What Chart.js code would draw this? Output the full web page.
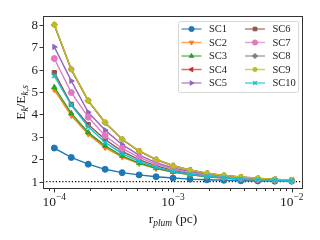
<!DOCTYPE html>
<html>
<head>
<meta charset="utf-8">
<script src="https://cdn.jsdelivr.net/npm/chart.js@4.4.1/dist/chart.umd.min.js"></script>
<style>html,body{margin:0;padding:0;background:#fff}</style>
</head>
<body>
<canvas id="grafic" width="320" height="240"></canvas>
<script>
// radis de Plummer (pc)
const rPlum = [1e-4, 1.39e-4, 1.93e-4, 2.68e-4, 3.73e-4, 5.18e-4, 7.2e-4, 1e-3,
               1.39e-3, 1.93e-3, 2.68e-3, 3.73e-3, 5.18e-3, 7.2e-3, 1e-2];

const SC1  = [2.50, 2.08, 1.78, 1.55, 1.40, 1.30, 1.22, 1.16, 1.11, 1.08, 1.06, 1.04, 1.03, 1.02, 1.02];
const SC2  = [5.10, 3.95, 3.12, 2.52, 2.10, 1.80, 1.58, 1.42, 1.31, 1.22, 1.16, 1.11, 1.08, 1.06, 1.04];
const SC3  = [5.22, 4.05, 3.20, 2.60, 2.15, 1.83, 1.60, 1.43, 1.31, 1.22, 1.16, 1.12, 1.08, 1.06, 1.04];
const SC4  = [8.00, 6.00, 4.61, 3.63, 2.88, 2.36, 1.98, 1.71, 1.51, 1.37, 1.27, 1.20, 1.14, 1.10, 1.07];
const SC5  = [7.02, 5.50, 4.10, 3.30, 2.65, 2.18, 1.85, 1.61, 1.44, 1.32, 1.23, 1.17, 1.12, 1.08, 1.06];
const SC6  = [5.87, 4.45, 3.55, 2.88, 2.35, 1.98, 1.70, 1.50, 1.36, 1.26, 1.19, 1.13, 1.09, 1.07, 1.05];
const SC7  = [6.50, 4.98, 3.88, 3.05, 2.48, 2.08, 1.78, 1.56, 1.40, 1.29, 1.21, 1.15, 1.10, 1.07, 1.05];
const SC8  = [8.01, 6.02, 4.62, 3.64, 2.89, 2.37, 1.99, 1.71, 1.52, 1.38, 1.28, 1.21, 1.15, 1.10, 1.07];
const SC9  = [8.01, 6.02, 4.62, 3.64, 2.89, 2.37, 1.99, 1.71, 1.52, 1.38, 1.28, 1.21, 1.15, 1.10, 1.07];
const SC10 = [5.72, 4.42, 3.45, 2.75, 2.25, 1.90, 1.65, 1.46, 1.33, 1.24, 1.17, 1.12, 1.08, 1.06, 1.04];

const noms = ['SC1', 'SC2', 'SC3', 'SC4', 'SC5', 'SC6', 'SC7', 'SC8', 'SC9', 'SC10'];
const series = [SC1, SC2, SC3, SC4, SC5, SC6, SC7, SC8, SC9, SC10];
const yTicks = [1, 2, 3, 4, 5, 6, 7, 8];
const xDecades = [-4, -3, -2];

const COLORS = ['#1f77b4', '#ff7f0e', '#2ca02c', '#d62728', '#9467bd',
                '#8c564b', '#e377c2', '#7f7f7f', '#bcbd22', '#17becf'];
const MARKERS = [
    { style: 'circle', rot: 0 }, { style: 'triangle', rot: 180 }, { style: 'triangle', rot: 0 },
    { style: 'triangle', rot: 270 }, { style: 'triangle', rot: 90 }, { style: 'rect', rot: 0 },
    { style: 'circle', rot: 0 }, { style: 'rectRot', rot: 0 }, { style: 'star', rot: 0 },
    { style: 'crossRot', rot: 0 }
];
const FONT = '"Liberation Serif", "DejaVu Serif", serif';

function alpha(hex, a) {
    const n = parseInt(hex.slice(1), 16);
    return `rgba(${n >> 16},${(n >> 8) & 255},${n & 255},${a})`;
}

// text amb subíndexs / superíndexs
function drawRich(ctx, parts, x, y, size, align) {
    const pieces = parts.map(p => {
        const s = p.sub || p.sup ? size * 0.7 : size;
        ctx.font = `${p.it ? 'italic ' : ''}${s}px ${FONT}`;
        return { ...p, s, w: ctx.measureText(p.t).width };
    });
    const total = pieces.reduce((a, p) => a + p.w, 0);
    let cx = align === 'center' ? x - total / 2 : (align === 'right' ? x - total : x);
    ctx.textAlign = 'left';
    ctx.textBaseline = 'alphabetic';
    for (const p of pieces) {
        ctx.font = `${p.it ? 'italic ' : ''}${p.s}px ${FONT}`;
        const dy = p.sub ? size * 0.22 : (p.sup ? -size * 0.42 : 0);
        ctx.fillText(p.t, cx, y + dy);
        cx += p.w;
    }
}

function marker(ctx, i, x, y, r) {
    const m = MARKERS[i];
    ctx.save();
    ctx.fillStyle = COLORS[i];
    ctx.strokeStyle = COLORS[i];
    ctx.lineWidth = (m.style === 'star' || m.style === 'crossRot') ? 1.5 : 1;
    Chart.helpers.drawPoint(ctx, { pointStyle: m.style, rotation: m.rot, radius: r, borderWidth: ctx.lineWidth }, x, y);
    ctx.restore();
}

const decor = {
    id: 'decor',
    beforeDatasetsDraw(chart) {
        const { ctx, chartArea: a, scales: { y } } = chart;
        const py = y.getPixelForValue(1);
        ctx.save();
        ctx.strokeStyle = '#000';
        ctx.lineWidth = 1.1;
        ctx.setLineDash([1.2, 2]);
        ctx.beginPath();
        ctx.moveTo(a.left, py);
        ctx.lineTo(a.right, py);
        ctx.stroke();
        ctx.restore();
    },
    afterDraw(chart) {
        const { ctx, chartArea: a, scales: { x, y } } = chart;
        ctx.save();
        ctx.strokeStyle = '#333';
        ctx.fillStyle = '#222';
        ctx.lineWidth = 1;
        ctx.strokeRect(a.left + 0.5, a.top + 0.5, a.right - a.left - 1, a.bottom - a.top - 1);

        // eix y
        ctx.font = `13px ${FONT}`;
        yTicks.forEach(v => {
            const py = Math.round(y.getPixelForValue(v)) + 0.5;
            ctx.beginPath();
            ctx.moveTo(a.left - 3.5, py);
            ctx.lineTo(a.left, py);
            ctx.stroke();
            ctx.textAlign = 'right';
            ctx.textBaseline = 'middle';
            ctx.fillText(String(v), a.left - 5, py + 0.5);
        });

        // eix x: ticks majors i menors
        for (let d = -5; d <= -2; d++) {
            for (let m = 1; m <= 9; m++) {
                const v = m * Math.pow(10, d);
                if (v < x.min || v > x.max) continue;
                const px = Math.round(x.getPixelForValue(v)) + 0.5;
                ctx.beginPath();
                ctx.moveTo(px, a.bottom);
                ctx.lineTo(px, a.bottom + (m === 1 ? 3.5 : 2));
                ctx.stroke();
            }
        }
        xDecades.forEach(d => {
            const px = x.getPixelForValue(Math.pow(10, d));
            drawRich(ctx, [{ t: '10' }, { t: '\u2212' + (-d), sup: true }], px, a.bottom + 17, 13.5, 'center');
        });

        // títols dels eixos
        drawRich(ctx, [{ t: 'r' }, { t: 'plum', sub: true, it: true }, { t: ' (pc)' }],
                 (a.left + a.right) / 2, a.bottom + 34, 13.5, 'center');
        ctx.save();
        ctx.translate(25, (a.top + a.bottom) / 2);
        ctx.rotate(-Math.PI / 2);
        drawRich(ctx, [{ t: 'E' }, { t: 'k', sub: true, it: true }, { t: '/E' }, { t: 'k,s', sub: true, it: true }],
                 0, 0, 13.5, 'center');
        ctx.restore();

        // llegenda en dues columnes
        const lx = 178, ly = 21, lw = 120, lh = 71;
        ctx.fillStyle = 'rgba(255,255,255,0.85)';
        ctx.strokeStyle = '#d6d6d6';
        ctx.beginPath();
        ctx.roundRect(lx + 0.5, ly + 0.5, lw, lh, 2);
        ctx.fill();
        ctx.stroke();
        noms.forEach((nom, i) => {
            const col = Math.floor(i / 5), row = i % 5;
            const x0 = col === 0 ? 181.5 : 245;
            const yy = 29 + row * 13.5;
            ctx.strokeStyle = alpha(COLORS[i], 0.7);
            ctx.lineWidth = 1.5;
            ctx.beginPath();
            ctx.moveTo(x0, yy);
            ctx.lineTo(x0 + 20, yy);
            ctx.stroke();
            marker(ctx, i, x0 + 10, yy, 2.6);
            ctx.fillStyle = '#222';
            ctx.font = `10.5px ${FONT}`;
            ctx.textAlign = 'left';
            ctx.textBaseline = 'middle';
            ctx.fillText(nom, x0 + 27.5, yy + 0.5);
        });
        ctx.restore();
    }
};

// l'última sèrie es dibuixa a sobre, com a matplotlib
const datasets = series.map((s, i) => ({
    label: noms[i],
    data: s.map((v, j) => ({ x: rPlum[j], y: v })),
    order: series.length - i,
    borderColor: COLORS[i],
    borderWidth: 1.4,
    pointStyle: MARKERS[i].style,
    pointRotation: MARKERS[i].rot,
    pointRadius: 3,
    pointBackgroundColor: COLORS[i],
    pointBorderColor: COLORS[i],
    pointBorderWidth: (MARKERS[i].style === 'star' || MARKERS[i].style === 'crossRot') ? 1.6 : 1,
    tension: 0,
    fill: false
}));

new Chart(document.getElementById('grafic'), {
    type: 'line',
    data: { datasets },
    options: {
        responsive: false,
        animation: false,
        layout: { padding: { top: 16, right: 17, left: 0, bottom: 0 } },
        plugins: { legend: { display: false }, tooltip: { enabled: false } },
        scales: {
            x: {
                type: 'logarithmic', min: 8.03e-5, max: 1.245e-2,
                ticks: { display: false }, grid: { display: false }, border: { display: false },
                afterFit: s => { s.height = 51; }
            },
            y: {
                type: 'linear', min: 0.67, max: 8.4,
                ticks: { display: false }, grid: { display: false }, border: { display: false },
                afterFit: s => { s.width = 43; }
            }
        }
    },
    plugins: [decor]
});
</script>
</body>
</html>
